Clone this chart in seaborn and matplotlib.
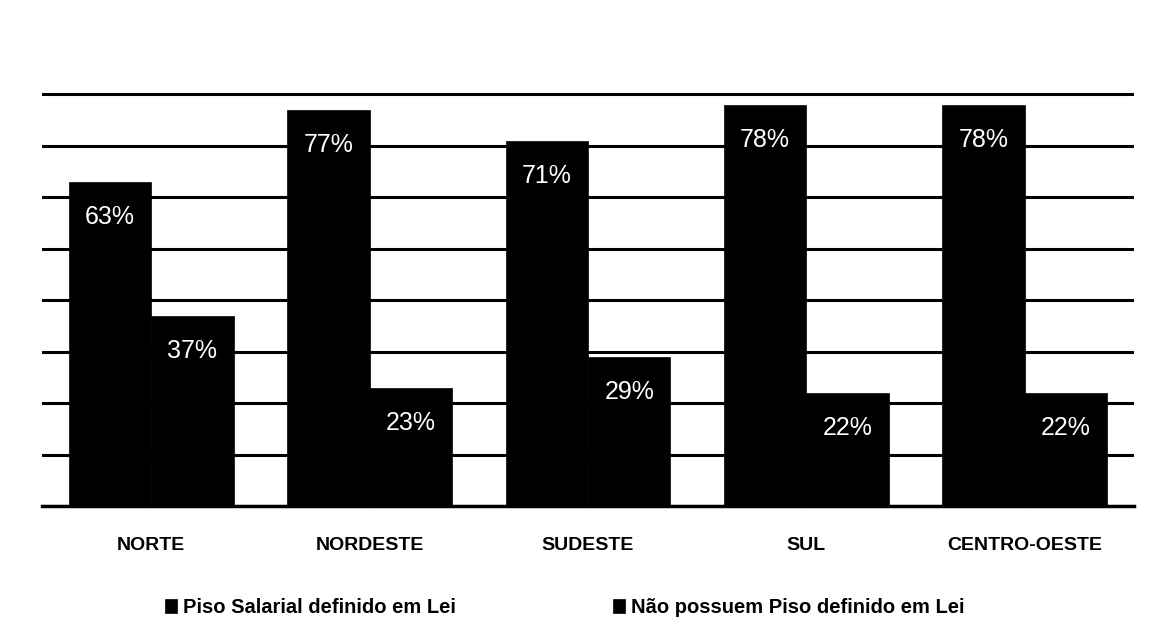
import pandas as pd
import matplotlib
matplotlib.use("Agg")
import matplotlib.pyplot as plt
import seaborn as sns

# data
regioes = ["NORTE", "NORDESTE", "SUDESTE", "SUL", "CENTRO-OESTE"]
series = ["Piso Salarial definido em Lei", "Não possuem Piso definido em Lei"]
piso_lei = [63, 77, 71, 78, 78]
sem_piso = [37, 23, 29, 22, 22]

df = pd.DataFrame({
    "regiao": regioes * 2,
    "serie": [series[0]] * len(regioes) + [series[1]] * len(regioes),
    "valor": piso_lei + sem_piso,
})

sns.set_style("white", {"text.color": "black", "xtick.color": "black",
                        "axes.labelcolor": "black"})
plt.rcParams["font.family"] = ["Liberation Sans", "DejaVu Sans"]

fig, ax = plt.subplots(figsize=(11.62, 6.44), dpi=100)
fig.subplots_adjust(left=42 / 1162, right=1134 / 1162,
                    bottom=1 - 506 / 644, top=1 - 43 / 644)

sns.barplot(data=df, x="regiao", y="valor", hue="serie",
            palette=["black", "black"], saturation=1, width=0.755,
            gap=0, ax=ax, zorder=3, edgecolor="black", linewidth=0.5)

# white percentage labels inside the top of each bar
for cont in ax.containers:
    ax.bar_label(cont, labels=[f"{int(v)}%" for v in cont.datavalues],
                 padding=-34, color="white", fontsize=18)

ax.set_ylim(0, 90)
ax.set_xlim(-0.5, 4.5)
ax.set_yticks(range(0, 90, 10))
ax.set_yticklabels([])
ax.yaxis.grid(True, color="black", linewidth=2.2)
ax.set_axisbelow(True)
ax.tick_params(axis="both", length=0)
ax.tick_params(axis="x", pad=22)
for lbl in ax.get_xticklabels():
    lbl.set_fontweight("bold")
    lbl.set_fontsize(14)
    lbl.set_color("black")
ax.set_xlabel("")
ax.set_ylabel("")
sns.despine(ax=ax, left=True, top=True, right=True, bottom=False)
ax.spines["bottom"].set_color("black")
ax.spines["bottom"].set_linewidth(2.5)

ax.legend_.remove()
handles, labels = ax.get_legend_handles_labels()
fig.legend(handles, labels, loc="center", bbox_to_anchor=(0.486, 0.056),
           bbox_transform=fig.transFigure, ncol=2, frameon=False,
           prop={"weight": "bold", "size": 14.5}, labelcolor="black",
           handlelength=0.6, handleheight=0.7, handletextpad=0.3,
           columnspacing=7.8)

fig.savefig("out.png", dpi=100)
